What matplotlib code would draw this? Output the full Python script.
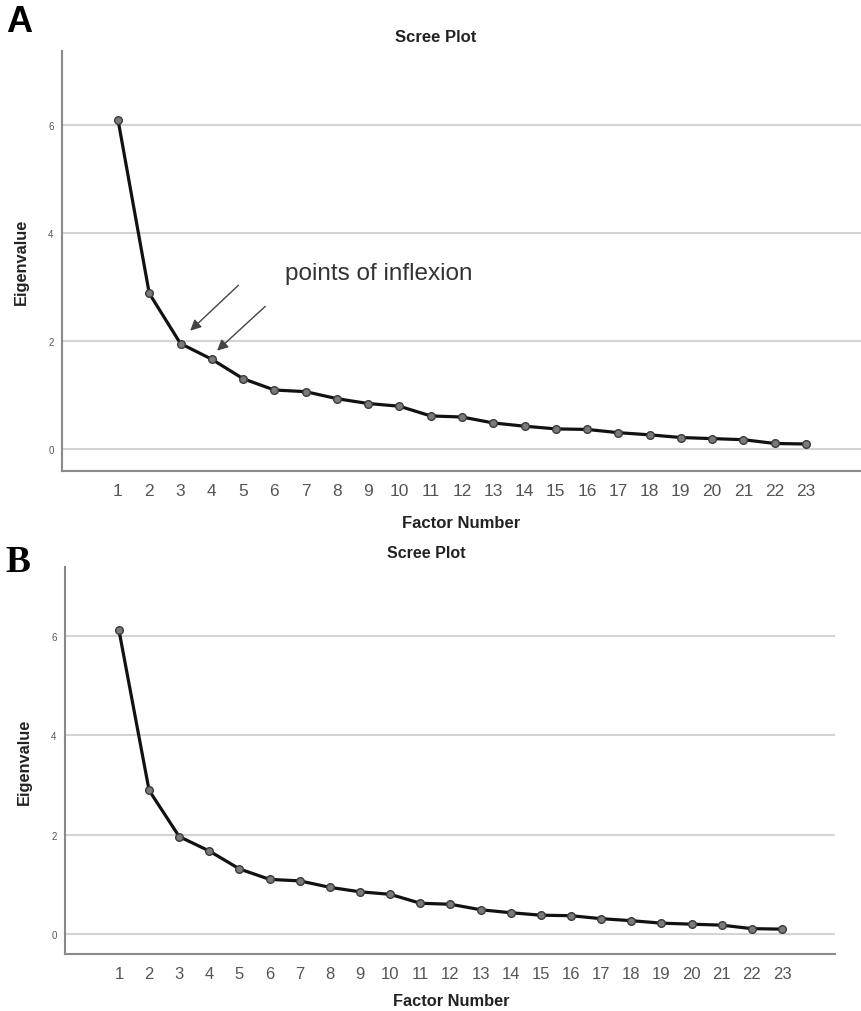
import matplotlib
matplotlib.use("Agg")
import matplotlib.pyplot as plt

plt.rcParams['font.family'] = ['Liberation Sans', 'DejaVu Sans']

# Eigenvalues per extracted factor
factors = list(range(1, 24))
eigenvalues = [6.11, 2.89, 1.96, 1.67, 1.31, 1.10, 1.07, 0.94, 0.85, 0.80,
               0.62, 0.60, 0.49, 0.43, 0.38, 0.37, 0.31, 0.27, 0.22, 0.20,
               0.18, 0.11, 0.10]
y_ticks = [0, 2, 4, 6]

W, H = 861, 1012
fig = plt.figure(figsize=(W / 100, H / 100), dpi=100)


def px_axes(left, top, right, bottom):
    return fig.add_axes([left / W, 1 - bottom / H, (right - left) / W, (bottom - top) / H])


def scree(ax, xtick_size):
    ax.set_xlim(-0.79, 24.76)
    ax.set_ylim(-0.4, 7.38)
    for v in y_ticks:
        ax.axhline(v, color='#d4d4d4', lw=1.5, zorder=1)
    ax.plot(factors, eigenvalues, color='#111111', lw=2.3, zorder=3,
            marker='o', markersize=5.5, markerfacecolor='#7a7a7a',
            markeredgecolor='#3a3a3a', markeredgewidth=1.0)
    ax.set_xticks(factors)
    ax.set_xticklabels([str(f) for f in factors], fontsize=xtick_size, color='#555555')
    ax.set_yticks(y_ticks)
    ax.set_yticklabels([str(v) for v in y_ticks], fontsize=7, color='#555555')
    ax.tick_params(axis='both', length=0)
    ax.tick_params(axis='x', pad=9)
    ax.tick_params(axis='y', pad=6)
    for s in ['top', 'right']:
        ax.spines[s].set_visible(False)
    for s in ['left', 'bottom']:
        ax.spines[s].set_color('#8a8a8a')
        ax.spines[s].set_linewidth(1.5)
    ax.set_ylabel('Eigenvalue', fontsize=11.8, fontweight='bold', color='#222222', labelpad=14)


# Panel A
axA = px_axes(62, 52, 861, 472)
scree(axA, 12.5)
axA.text(9.33, 3.27, 'points of inflexion', fontsize=17.5, color='#333333',
         ha='center', va='center')
axA.annotate('', xy=(3.31, 2.20), xytext=(4.85, 3.04),
             arrowprops=dict(arrowstyle='-|>', color='#444444', lw=1.0,
                             mutation_scale=16, shrinkA=0, shrinkB=0))
axA.annotate('', xy=(4.17, 1.83), xytext=(5.71, 2.65),
             arrowprops=dict(arrowstyle='-|>', color='#444444', lw=1.0,
                             mutation_scale=16, shrinkA=0, shrinkB=0))
fig.text(436 / W, 1 - 38 / H, 'Scree Plot', fontsize=12, fontweight='bold',
         color='#222222', ha='center', va='center')
fig.text(461 / W, 1 - 523 / H, 'Factor Number', fontsize=12, fontweight='bold',
         color='#222222', ha='center', va='center')
fig.text(6 / W, 1 - 22 / H, 'A', fontsize=26, fontweight='heavy',
         color='#000000', ha='left', va='center')

# Panel B
axB = px_axes(65, 568, 835, 955)
scree(axB, 12)
fig.text(426 / W, 1 - 554 / H, 'Scree Plot', fontsize=11.5, fontweight='bold',
         color='#222222', ha='center', va='center')
fig.text(451 / W, 1 - 1002 / H, 'Factor Number', fontsize=11.8, fontweight='bold',
         color='#222222', ha='center', va='center')
fig.text(5 / W, 1 - 562 / H, 'B', fontsize=27, fontweight='bold',
         family='Liberation Serif', color='#000000', ha='left', va='center')

fig.savefig('out.png', dpi=100, facecolor='white')
